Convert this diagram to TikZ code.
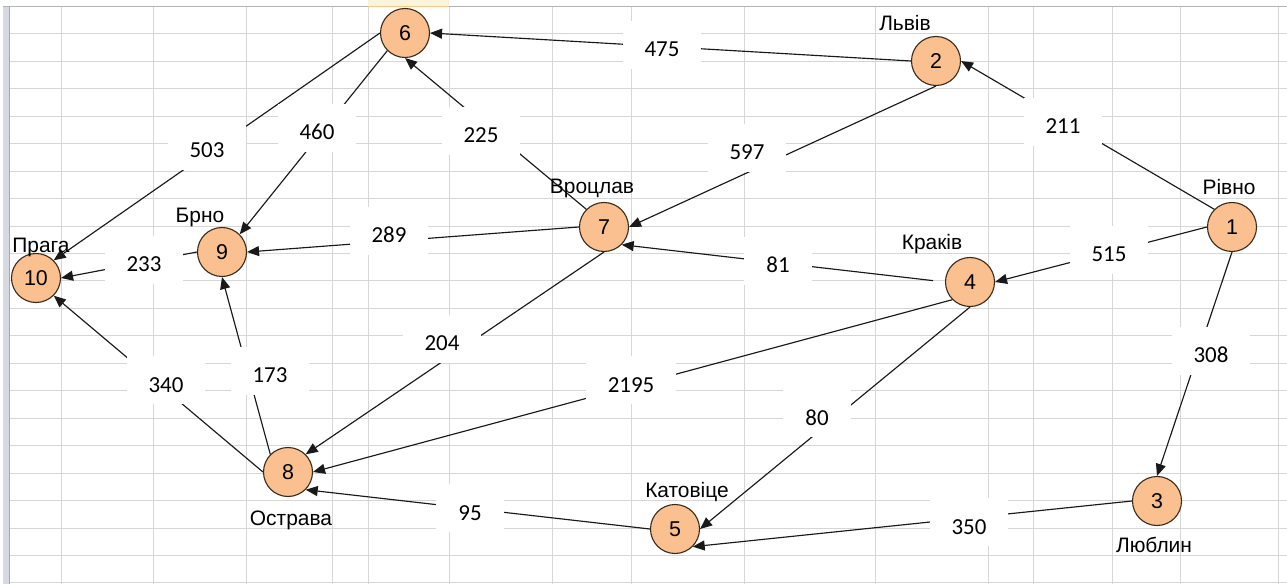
\documentclass[tikz,border=0pt]{standalone}
\usepackage{fontspec}
\setmainfont{Liberation Sans}
\newfontfamily\calib{Carlito}
\usetikzlibrary{arrows.meta}
\definecolor{nodefill}{HTML}{FAC090}
\definecolor{nodeline}{HTML}{3A2A1A}
\definecolor{gridc}{HTML}{D6D6D6}
\definecolor{barc}{HTML}{D6D9E2}
\definecolor{bard}{HTML}{A4A8B4}
\definecolor{topc}{HTML}{B4B4B4}
\definecolor{hdrc}{HTML}{FDF3DC}
\definecolor{hdrl}{HTML}{F2C98A}
\begin{document}
\begin{tikzpicture}[x=1bp,y=-1bp,
  city/.style={circle, draw=nodeline, line width=1.1bp, fill=nodefill, minimum size=49bp, inner sep=0pt, font=\fontsize{21.5}{21.5}\selectfont},
  cname/.style={anchor=base, inner sep=0pt, font=\fontsize{21}{21}\selectfont},
  wt/.style={anchor=base, fill=white, inner xsep=22bp, inner ysep=10bp, text height=26bp, text depth=2bp, font=\calib\fontsize{23}{23}\selectfont},
  edge/.style={draw=black!90, line width=1.15bp, -{Triangle[length=12bp,width=10bp]}},
  gridline/.style={draw=gridc, line width=1bp}
]
\useasboundingbox (0,0) rectangle (1287,584);
\fill[white] (0,0) rectangle (1287,584);
% spreadsheet grid
\fill[hdrc] (368,0) rectangle (449,6.5);
\foreach \gx in {61,153,246,332,368,449,552,631,744,875,988,1033,1112,1180,1278}
  \draw[gridline] (\gx,6.5) -- (\gx,584);
\foreach \k in {1,...,21}
  \draw[gridline] (9.5,{6.5+27.45*\k}) -- (1287,{6.5+27.45*\k});
\fill[barc] (3,6.5) rectangle (9.5,584);
\draw[bard, line width=1bp] (9.5,6.5) -- (9.5,584);
\draw[topc, line width=1bp] (3,6.5) -- (1287,6.5);
\draw[hdrl, line width=1bp] (368,6.5) -- (449,6.5);

% vertices
\node[city] (n1) at (1232,227) {1};
\node[city] (n2) at (936,61) {2};
\node[city] (n3) at (1157,501) {3};
\node[city] (n4) at (970,282) {4};
\node[city] (n5) at (675,529) {5};
\node[city] (n6) at (405,33) {6};
\node[city] (n7) at (604,227) {7};
\node[city] (n8) at (288,472) {8};
\node[city] (n9) at (222,252) {9};
\node[city] (n10) at (36,278) {10};

% connectors
\draw[edge] (n2.west) -- (n6.east);
\draw[edge] (n1.north west) -- (n2.east);
\draw[edge] (n2.south) -- (n7.east);
\draw[edge] (n7.north west) -- (n6.south);
\draw[edge] (n6.west) -- (n10.north east);
\draw[edge] (n6.south west) -- (n9.north east);
\draw[edge] (n7.west) -- (n9.east);
\draw[edge] (n9.west) -- (n10.east);
\draw[edge, shorten <=12bp] (n4.west) -- (n7.south east);
\draw[edge] (n1.west) -- (n4.east);
\draw[edge] (n1.south) -- (n3.north);
\draw[edge] (n4.south west) -- (n8.east);
\draw[edge] (n7.south) -- (n8.north east);
\draw[edge] (n8.west) -- (n10.south east);
\draw[edge] (n8.north west) -- (n9.south);
\draw[edge] (n4.south) -- (n5.east);
\draw[edge] (n5.west) -- (n8.south east);
\draw[edge] (n3.west) -- (n5.south east);

% weights
\node[wt] (w475) at (662,57) {475};
\node[wt] (w211) at (1063,134) {211};
\node[wt] (w597) at (747,160) {597};
\node[wt] (w225) at (481,143) {225};
\node[wt] (w503) at (207,158) {503};
\node[wt] (w460) at (317,140) {460};
\node[wt] (w289) at (389,243) {289};
\node[wt] (w233) at (144,272) {233};
\node[wt] (w81) at (778,273) {81};
\node[wt] (w515) at (1109,262) {515};
\node[wt] (w308) at (1211,363) {308};
\node[wt] (w2195) at (631,392) {2195};
\node[wt] (w204) at (442,351) {204};
\node[wt] (w340) at (166,392) {340};
\node[wt] (w173) at (270,383) {173};
\node[wt] (w80) at (817,425) {80};
\node[wt] (w95) at (470,520) {95};
\node[wt] (w350) at (969,534) {350};

% city names
\node[cname] (t10) at (41,253) {Прага};
\node[cname] (t9) at (200,223) {Брно};
\node[cname] (t7) at (592,194) {Вроцлав};
\node[cname] (t2) at (905,31) {Львів};
\node[cname] (t1) at (1229,195) {Рівно};
\node[cname] (t4) at (932,250) {Краків};
\node[cname] (t5) at (687,497) {Катовіце};
\node[cname] (t3) at (1154,552) {Люблин};
\node[cname] (t8) at (291,525) {Острава};
\end{tikzpicture}
\end{document}
